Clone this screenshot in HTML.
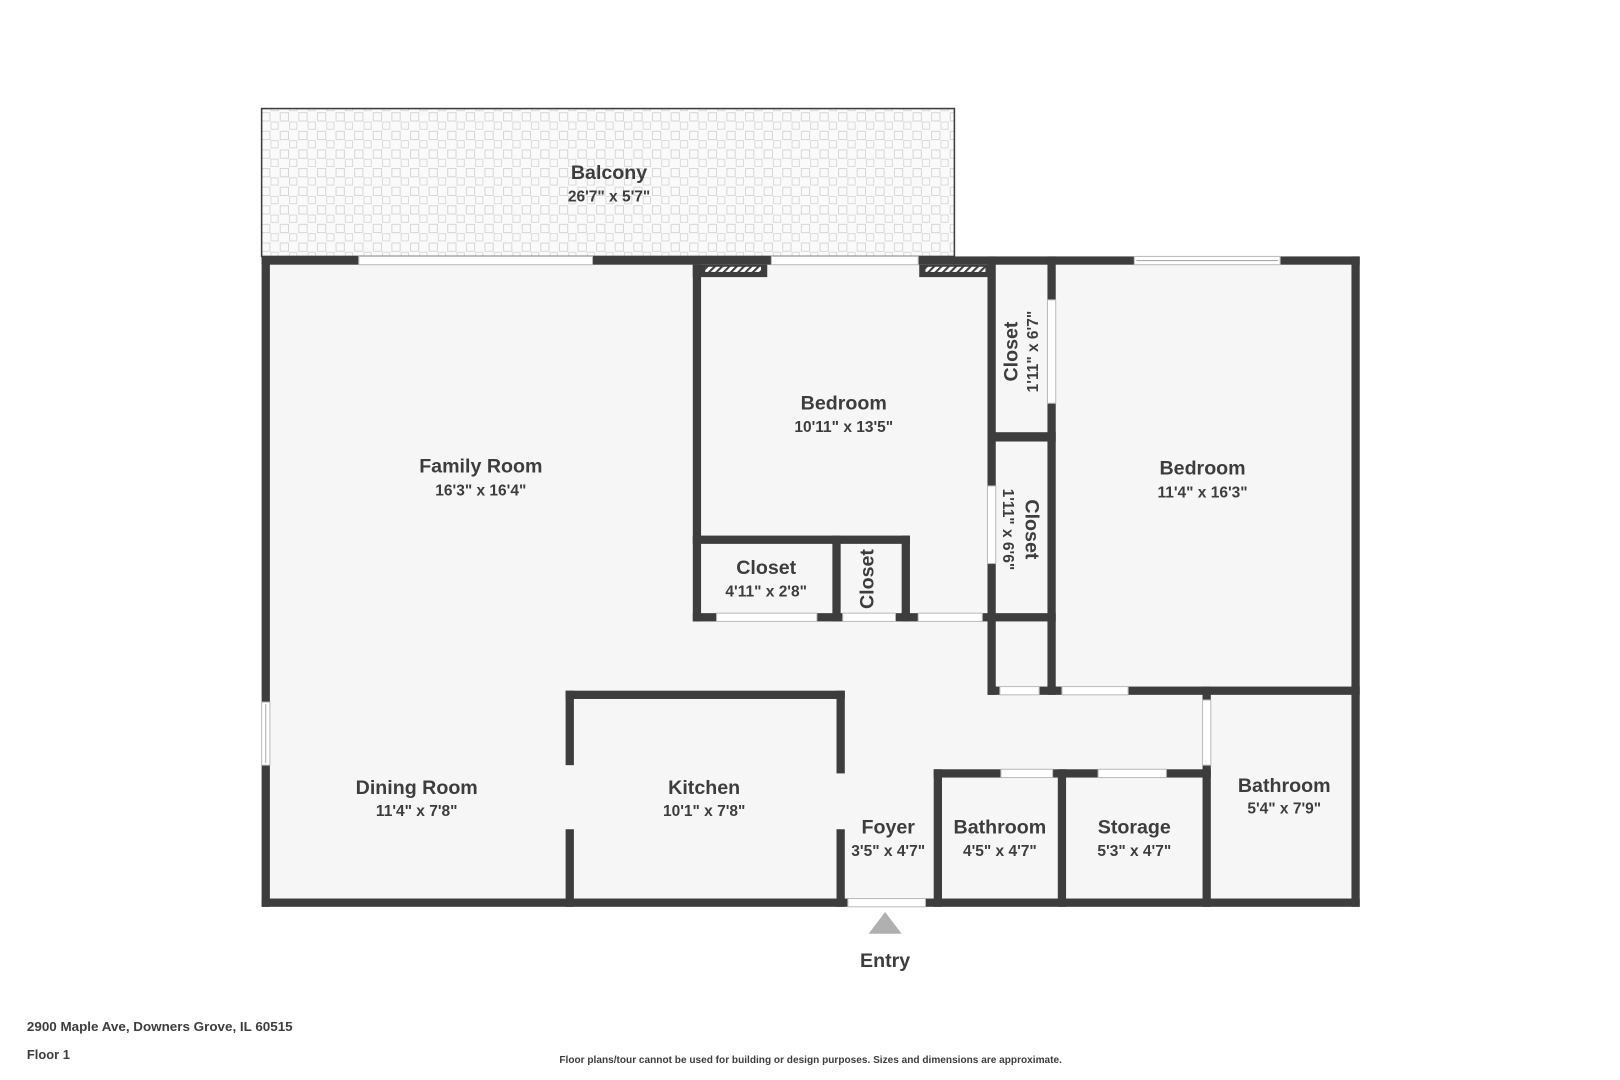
<!DOCTYPE html>
<html><head><meta charset="utf-8"><style>
html,body{margin:0;padding:0;background:#fff;}
svg{display:block;}
text{font-family:"Liberation Sans",sans-serif;font-weight:bold;fill:#3d3d3d;}
</style></head><body>
<svg width="1620" height="1080" viewBox="0 0 1566.7 1044.5" xmlns="http://www.w3.org/2000/svg">
<defs>
<pattern id="tile" width="18" height="18" patternUnits="userSpaceOnUse">
<rect width="18" height="18" fill="#fafafa"/>
<rect x="1" y="1" width="8" height="8" fill="none" stroke="#d4d4d4" stroke-width="0.9"/>
<rect x="10" y="10" width="7" height="7" fill="none" stroke="#d8d8d8" stroke-width="0.9"/>
</pattern>
<pattern id="hatch" width="5" height="5" patternUnits="userSpaceOnUse" patternTransform="rotate(45)">
<rect width="5" height="5" fill="#fff"/><rect width="2" height="5" fill="#3d3d3d"/>
</pattern>
</defs>
<rect x="253" y="105" width="670" height="143" fill="url(#tile)" stroke="#3d3d3d" stroke-width="1.5"/>
<rect x="257" y="252" width="1054" height="621" fill="#f6f6f6"/>
<g fill="#3d3d3d">
<rect x="253" y="248" width="1062" height="8"/>
<rect x="253" y="869" width="1062" height="8"/>
<rect x="253" y="248" width="8" height="629"/>
<rect x="1307" y="248" width="8" height="629"/>
<rect x="670" y="256" width="8" height="345"/>
<rect x="670" y="256" width="72" height="12"/>
<rect x="889" y="256" width="70" height="12"/>
<rect x="955" y="248" width="8" height="424"/>
<rect x="1013" y="248" width="8" height="424"/>
<rect x="955" y="418" width="66" height="9"/>
<rect x="955" y="593" width="66" height="8"/>
<rect x="955" y="664" width="360" height="8"/>
<rect x="670" y="593" width="290" height="8"/>
<rect x="670" y="518" width="210" height="8"/>
<rect x="805" y="518" width="8" height="83"/>
<rect x="872" y="518" width="8" height="83"/>
<rect x="547" y="668" width="270" height="8"/>
<rect x="547" y="668" width="8" height="72"/>
<rect x="547" y="802" width="8" height="75"/>
<rect x="809" y="668" width="8" height="80"/>
<rect x="809" y="802" width="8" height="75"/>
<rect x="1163" y="664" width="8" height="213"/>
<rect x="903" y="744" width="268" height="8"/>
<rect x="903" y="744" width="8" height="133"/>
<rect x="1023" y="744" width="8" height="133"/>
</g>
<rect x="682" y="258" width="54" height="5" fill="url(#hatch)"/>
<rect x="895" y="258" width="58" height="5" fill="url(#hatch)"/>
<g fill="#fff" stroke="#bbb" stroke-width="1">
<rect x="347" y="248" width="226" height="8"/>
<rect x="746" y="248" width="142" height="8"/>
<rect x="1097" y="248" width="141" height="8"/>
<rect x="253" y="679" width="8" height="61"/>
<rect x="1013" y="290" width="8" height="100"/>
<rect x="955" y="470" width="8" height="75"/>
<rect x="693" y="593" width="97" height="8"/>
<rect x="815" y="593" width="51" height="8"/>
<rect x="888" y="593" width="62" height="8"/>
<rect x="967" y="664" width="38" height="8"/>
<rect x="1027" y="664" width="64" height="8"/>
<rect x="1163" y="677" width="8" height="63"/>
<rect x="968" y="744" width="50" height="8"/>
<rect x="1062" y="744" width="66" height="8"/>
<rect x="820" y="869" width="75" height="8"/>
</g>
<line x1="1099" y1="252" x2="1236" y2="252" stroke="#aaa" stroke-width="1"/>
<line x1="257" y1="681" x2="257" y2="738" stroke="#aaa" stroke-width="1"/>
<g text-anchor="middle">
<text x="589" y="173" font-size="19">Balcony</text><text x="589" y="195" font-size="15">26'7" x 5'7"</text>
<text x="465" y="457" font-size="19">Family Room</text><text x="465" y="479" font-size="15">16'3" x 16'4"</text>
<text x="816" y="396" font-size="19">Bedroom</text><text x="816" y="418" font-size="15">10'11" x 13'5"</text>
<text x="1163" y="459" font-size="19">Bedroom</text><text x="1163" y="481" font-size="15">11'4" x 16'3"</text>
<text x="741" y="555" font-size="19">Closet</text><text x="741" y="577" font-size="15">4'11" x 2'8"</text>
<text x="403" y="768" font-size="19">Dining Room</text><text x="403" y="789" font-size="15">11'4" x 7'8"</text>
<text x="681" y="768" font-size="19">Kitchen</text><text x="681" y="789" font-size="15">10'1" x 7'8"</text>
<text x="859" y="806" font-size="19">Foyer</text><text x="859" y="828" font-size="15">3'5" x 4'7"</text>
<text x="967" y="806" font-size="19">Bathroom</text><text x="967" y="828" font-size="15">4'5" x 4'7"</text>
<text x="1097" y="806" font-size="19">Storage</text><text x="1097" y="828" font-size="15">5'3" x 4'7"</text>
<text x="1242" y="766" font-size="19">Bathroom</text><text x="1242" y="787" font-size="15">5'4" x 7'9"</text>
<text x="856" y="935" font-size="19">Entry</text>
<text transform="translate(845,560) rotate(-90)" font-size="19">Closet</text>
<text transform="translate(984,340) rotate(-90)" font-size="19">Closet</text>
<text transform="translate(1004,340) rotate(-90)" font-size="15">1'11" x 6'7"</text>
<text transform="translate(992,512) rotate(90)" font-size="19">Closet</text>
<text transform="translate(970,512) rotate(90)" font-size="15">1'11" x 6'6"</text>
</g>
<polygon points="856,882 872,903 840,903" fill="#b0b0b0"/>
<text x="26" y="997" font-size="12.5" textLength="257" lengthAdjust="spacingAndGlyphs">2900 Maple Ave, Downers Grove, IL 60515</text>
<text x="26" y="1024" font-size="12.5">Floor 1</text>
<text x="541" y="1028" font-size="9.5" textLength="486" lengthAdjust="spacingAndGlyphs">Floor plans/tour cannot be used for building or design purposes. Sizes and dimensions are approximate.</text>
</svg>
</body></html>
